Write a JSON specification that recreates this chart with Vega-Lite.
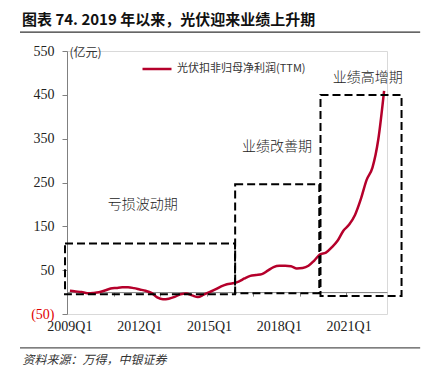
{
  "$schema": "https://vega.github.io/schema/vega-lite/v6.json",
  "width": 320,
  "height": 263,
  "autosize": {"type": "none"},
  "padding": {"left": 67, "top": 51, "right": 41, "bottom": 67},
  "background": "white",
  "title": {
    "text": "图表 74. 2019 年以来，光伏迎来业绩上升期",
    "anchor": "start",
    "frame": "group",
    "dx": -45,
    "offset": 4,
    "font": "Noto Sans CJK SC",
    "fontSize": 15,
    "fontWeight": "bold",
    "color": "#111"
  },
  "config": {"view": {"stroke": "#d9d9d9"}, "font": "Noto Sans CJK SC"},
  "datasets": {
    "ttm": [
      {"q": "2009Q1", "i": 0, "v": 3}, {"q": "2009Q2", "i": 1, "v": 1.5}, {"q": "2009Q3", "i": 2, "v": 0}, {"q": "2009Q4", "i": 3, "v": -2.5},
      {"q": "2010Q1", "i": 4, "v": -2}, {"q": "2010Q2", "i": 5, "v": -0.5}, {"q": "2010Q3", "i": 6, "v": 3.5}, {"q": "2010Q4", "i": 7, "v": 8},
      {"q": "2011Q1", "i": 8, "v": 9.5}, {"q": "2011Q2", "i": 9, "v": 11}, {"q": "2011Q3", "i": 10, "v": 11}, {"q": "2011Q4", "i": 11, "v": 9},
      {"q": "2012Q1", "i": 12, "v": 6}, {"q": "2012Q2", "i": 13, "v": 3}, {"q": "2012Q3", "i": 14, "v": -2}, {"q": "2012Q4", "i": 15, "v": -12},
      {"q": "2013Q1", "i": 16, "v": -16.5}, {"q": "2013Q2", "i": 17, "v": -15}, {"q": "2013Q3", "i": 18, "v": -11}, {"q": "2013Q4", "i": 19, "v": -5},
      {"q": "2014Q1", "i": 20, "v": -3.5}, {"q": "2014Q2", "i": 21, "v": -7.5}, {"q": "2014Q3", "i": 22, "v": -11.5}, {"q": "2014Q4", "i": 23, "v": -6},
      {"q": "2015Q1", "i": 24, "v": 0}, {"q": "2015Q2", "i": 25, "v": 6}, {"q": "2015Q3", "i": 26, "v": 13}, {"q": "2015Q4", "i": 27, "v": 18},
      {"q": "2016Q1", "i": 28, "v": 20}, {"q": "2016Q2", "i": 29, "v": 24}, {"q": "2016Q3", "i": 30, "v": 31}, {"q": "2016Q4", "i": 31, "v": 37},
      {"q": "2017Q1", "i": 32, "v": 39}, {"q": "2017Q2", "i": 33, "v": 41}, {"q": "2017Q3", "i": 34, "v": 49}, {"q": "2017Q4", "i": 35, "v": 57},
      {"q": "2018Q1", "i": 36, "v": 60}, {"q": "2018Q2", "i": 37, "v": 60}, {"q": "2018Q3", "i": 38, "v": 59}, {"q": "2018Q4", "i": 39, "v": 54},
      {"q": "2019Q1", "i": 40, "v": 55}, {"q": "2019Q2", "i": 41, "v": 60}, {"q": "2019Q3", "i": 42, "v": 72}, {"q": "2019Q4", "i": 43, "v": 86},
      {"q": "2020Q1", "i": 44, "v": 90}, {"q": "2020Q2", "i": 45, "v": 102}, {"q": "2020Q3", "i": 46, "v": 117}, {"q": "2020Q4", "i": 47, "v": 140},
      {"q": "2021Q1", "i": 48, "v": 154}, {"q": "2021Q2", "i": 49, "v": 176}, {"q": "2021Q3", "i": 50, "v": 212}, {"q": "2021Q4", "i": 51, "v": 256},
      {"q": "2022Q1", "i": 52, "v": 284}, {"q": "2022Q2", "i": 53, "v": 348}, {"q": "2022Q3", "i": 54, "v": 459}
    ],
    "boxes": [
      {"phase": "亏损波动期", "i": -0.84, "i2": 28.38, "v": -5, "v2": 111},
      {"phase": "业绩改善期", "i": 28.4, "i2": 42.86, "v": -2.7, "v2": 246},
      {"phase": "业绩高增期", "i": 43.07, "i2": 57.0, "v": -8.9, "v2": 449.7}
    ],
    "labels": [
      {"phase": "亏损波动期", "i": 12.5, "v": 198},
      {"phase": "业绩改善期", "i": 35.6, "v": 331},
      {"phase": "业绩高增期", "i": 51.2, "v": 488}
    ],
    "xlabels": [
      {"q": "2009Q1", "i": 0},
      {"q": "2012Q1", "i": 12},
      {"q": "2015Q1", "i": 24},
      {"q": "2018Q1", "i": 36},
      {"q": "2021Q1", "i": 48}
    ]
  },
  "layer": [
    {
      "data": {"name": "ttm"},
      "mark": {"type": "line", "strokeWidth": 2.5, "interpolate": "monotone"},
      "encoding": {
        "x": {
          "field": "i",
          "type": "quantitative",
          "scale": {"domain": [-0.5, 54.5], "nice": false, "zero": false},
          "axis": {
            "offset": -21.9,
            "values": [-0.5, 3.5, 7.5, 11.5, 15.5, 19.5, 23.5, 27.5, 31.5, 35.5, 39.5, 43.5, 47.5, 51.5],
            "labels": false,
            "tickSize": 4,
            "tickColor": "#808080",
            "domainColor": "#808080",
            "grid": false,
            "title": "资料来源：万得，中银证券",
            "titleX": -45,
            "titleY": 67,
            "titleAlign": "left",
            "titleBaseline": "middle",
            "titleFont": "Noto Sans CJK SC",
            "titleFontSize": 12,
            "titleFontStyle": "italic",
            "titleFontWeight": "normal",
            "titleColor": "#333"
          }
        },
        "y": {
          "field": "v",
          "type": "quantitative",
          "scale": {"domain": [-50, 550], "nice": false, "zero": false},
          "axis": {
            "values": [-50, 50, 150, 250, 350, 450, 550],
            "labelExpr": "datum.value < 0 ? '(' + abs(datum.value) + ')' : datum.label",
            "labelColor": {"condition": {"test": "datum.value < 0", "value": "#e00000"}, "value": "#222"},
            "labelFont": "Liberation Serif",
            "labelFontSize": 14,
            "labelPadding": 8,
            "tickSize": 5,
            "tickColor": "#808080",
            "domainColor": "#808080",
            "grid": false,
            "title": "(亿元)",
            "titleAngle": 0,
            "titleX": 2,
            "titleY": 1,
            "titleAlign": "left",
            "titleBaseline": "middle",
            "titleFont": "Noto Sans CJK SC",
            "titleFontSize": 12,
            "titleFontWeight": "normal",
            "titleColor": "#333"
          }
        },
        "color": {
          "datum": "光伏扣非归母净利润(TTM)",
          "scale": {"range": ["#b5002b"]},
          "legend": {
            "orient": "none",
            "legendX": 74,
            "legendY": 2,
            "title": null,
            "symbolType": "stroke",
            "symbolSize": 841,
            "symbolStrokeWidth": 2.5,
            "labelFont": "Noto Sans CJK SC",
            "labelFontSize": 11,
            "labelColor": "#333",
            "labelOffset": 4
          }
        }
      }
    },
    {
      "data": {"name": "boxes"},
      "mark": {"type": "rect", "fillOpacity": 0, "stroke": "#000", "strokeWidth": 2, "strokeDash": [8, 4]},
      "encoding": {
        "x": {"field": "i", "type": "quantitative"},
        "x2": {"field": "i2"},
        "y": {"field": "v", "type": "quantitative"},
        "y2": {"field": "v2"}
      }
    },
    {
      "data": {"name": "labels"},
      "mark": {"type": "text", "font": "Noto Sans CJK SC", "fontSize": 14, "fontWeight": 300, "color": "#222"},
      "encoding": {
        "x": {"field": "i", "type": "quantitative"},
        "y": {"field": "v", "type": "quantitative"},
        "text": {"field": "phase"}
      }
    },
    {
      "data": {"name": "xlabels"},
      "mark": {"type": "text", "font": "Liberation Serif", "fontSize": 14, "color": "#222", "baseline": "middle"},
      "encoding": {
        "x": {"field": "i", "type": "quantitative"},
        "y": {"datum": -80, "type": "quantitative"},
        "text": {"field": "q"}
      }
    },
    {
      "data": {"values": [{"sep": "top"}]},
      "mark": {"type": "rule", "color": "#333", "strokeWidth": 1.3},
      "encoding": {
        "x": {"datum": -8.58, "type": "quantitative"},
        "x2": {"datum": 60.2},
        "y": {"datum": 593, "type": "quantitative"}
      }
    },
    {
      "data": {"values": [{"sep": "bottom"}]},
      "mark": {"type": "rule", "color": "#555", "strokeWidth": 1.2},
      "encoding": {
        "x": {"datum": -8.58, "type": "quantitative"},
        "x2": {"datum": 60.2},
        "y": {"datum": -127.5, "type": "quantitative"}
      }
    }
  ]
}
